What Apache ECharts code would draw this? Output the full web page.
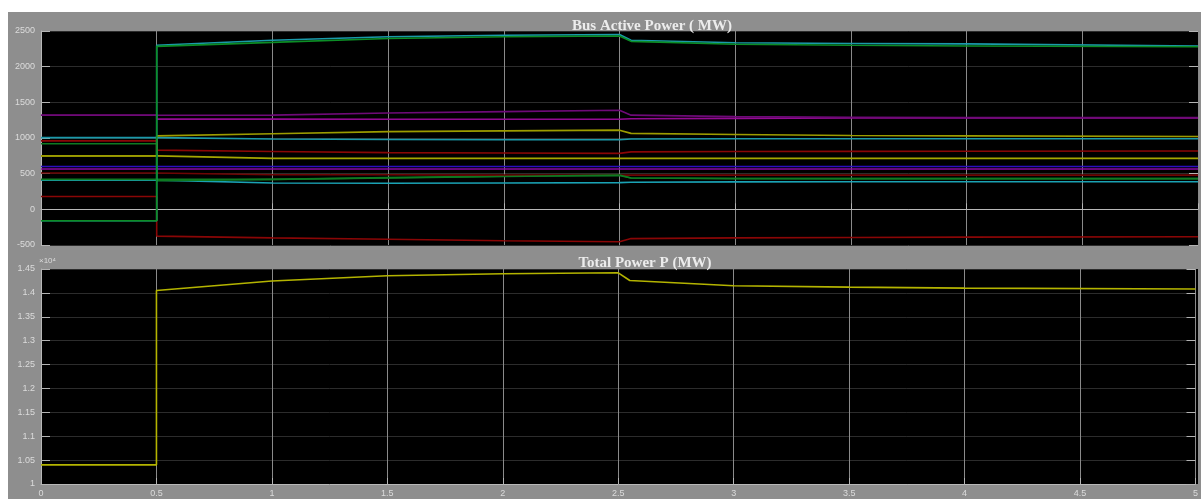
<!DOCTYPE html>
<html>
<head>
<meta charset="utf-8">
<script src="https://cdn.jsdelivr.net/npm/echarts@6/dist/echarts.min.js"></script>
<style>
  html, body { margin: 0; padding: 0; background: #ffffff; }
  #chart { width: 1201px; height: 499px; }
</style>
</head>
<body>
<div id="chart"></div>
<script>
// Sample times (s); repeated instants give the step changes at 0.5 s and 2.5 s
const times = [0, 0.5, 0.5, 1.0, 1.5, 2.0, 2.5, 2.55, 3.0, 3.5, 4.0, 5.0];

// Bus active power (MW)
const busCyanTop    = [-160, -160, 2300, 2370, 2420, 2440, 2450, 2370, 2335, 2325, 2320, 2290];
const busGreenTop   = [-160, -160, 2285, 2340, 2395, 2420, 2430, 2355, 2315, 2300, 2290, 2280];
const busMagentaA   = [1318, 1318, 1290, 1320, 1350, 1370, 1390, 1320, 1300, 1290, 1285, 1285];
const busMagentaB   = [1318, 1318, 1265, 1265, 1262, 1262, 1262, 1270, 1275, 1280, 1282, 1282];
const busYellowUp   = [750, 750, 1030, 1060, 1090, 1100, 1110, 1065, 1050, 1035, 1030, 1020];
const busCyanMid    = [1005, 1005, 990, 985, 980, 975, 975, 985, 990, 990, 990, 990];
const busRedUp      = [960, 960, 830, 810, 795, 790, 785, 805, 810, 812, 815, 818];
const busGreenMid   = [920, 920, 400, 420, 440, 460, 480, 440, 430, 430, 430, 430];
const busYellowLow  = [750, 750, 738, 715, 715, 715, 715, 715, 715, 715, 715, 715];
const busBlue       = [600, 600, 600, 600, 600, 600, 600, 600, 600, 600, 600, 600];
const busPurple     = [565, 565, 565, 565, 565, 565, 565, 565, 565, 565, 565, 565];
const busRedMid     = [510, 510, 490, 485, 485, 480, 480, 480, 480, 480, 480, 480];
const busGreenLow   = [420, 420, 395, 420, 445, 465, 475, 440, 432, 430, 430, 430];
const busCyanLow    = [410, 410, 390, 370, 365, 370, 375, 380, 385, 387, 387, 387];
const busRedLow     = [180, 180, -375, -400, -420, -440, -455, -410, -400, -395, -390, -385];

// Total active power (MW)
const totalPower    = [10400, 10400, 14050, 14250, 14360, 14400, 14420, 14260, 14150, 14120, 14100, 14080];

const busSeries = [
  { values: busRedLow,    color: '#8a0606' },
  { values: busCyanLow,   color: '#1aa2b4' },
  { values: busGreenLow,  color: '#0e7a22' },
  { values: busRedMid,    color: '#6e0404' },
  { values: busPurple,    color: '#8a0aa0' },
  { values: busBlue,      color: '#2c10c0' },
  { values: busYellowLow, color: '#a6a600' },
  { values: busGreenMid,  color: '#0e7a22' },
  { values: busRedUp,     color: '#8a0606' },
  { values: busCyanMid,   color: '#1a9aaa' },
  { values: busYellowUp,  color: '#9c9c00' },
  { values: busMagentaB,  color: '#940a94' },
  { values: busMagentaA,  color: '#6e0a78' },
  { values: busCyanTop,   color: '#1a9aaa' },
  { values: busGreenTop,  color: '#0c8e26' }
];

const pairs = v => times.map((t, i) => [t, v[i]]);

const labelStyle = { color: '#dcdcdc', fontSize: 9, fontFamily: 'Liberation Sans, Arial, sans-serif' };
const tickStyle = { show: true, inside: true, length: 9, lineStyle: { color: '#b4b4b4', width: 1 } };

function xAxisFor(gridIndex, showLabels) {
  return {
    type: 'value', gridIndex, min: 0, max: 5, interval: 0.5,
    axisLine: { show: true, lineStyle: { color: '#b8b8b8', width: 1 } },
    axisTick: { show: true, inside: true, length: 6, lineStyle: { color: '#b4b4b4' } },
    axisLabel: { show: showLabels, ...labelStyle, margin: 5, formatter: v => String(v) },
    splitLine: { show: true, lineStyle: { color: '#8a8a8a', width: 1 } }
  };
}

const chart = echarts.init(document.getElementById('chart'), null, { renderer: 'canvas' });

chart.setOption({
  animation: false,
  backgroundColor: '#ffffff',
  graphic: [
    { type: 'rect', z: -10, shape: { x: 8, y: 12, width: 1193, height: 487 }, style: { fill: '#8e8e8e' } },
    { type: 'rect', z: -9, shape: { x: 41, y: 31, width: 1157, height: 214 }, style: { fill: '#000000' } },
    { type: 'rect', z: -9, shape: { x: 41, y: 269, width: 1157, height: 215 }, style: { fill: '#000000' } }
  ],
  title: [
    { text: 'Bus Active Power ( MW)', left: 647, top: 14, textAlign: 'center',
      textStyle: { color: '#ececec', fontSize: 15, fontWeight: 'bold', fontFamily: 'Liberation Serif, Times New Roman, serif' } },
    { text: 'Total Power P (MW)', left: 640, top: 251, textAlign: 'center',
      textStyle: { color: '#ececec', fontSize: 15, fontWeight: 'bold', fontFamily: 'Liberation Serif, Times New Roman, serif' } }
  ],
  grid: [
    { left: 41, right: 3, top: 31, height: 214, containLabel: false },
    { left: 41, right: 3, top: 269, height: 215, containLabel: false }
  ],
  xAxis: [xAxisFor(0, false), xAxisFor(1, true)],
  yAxis: [
    {
      type: 'value', gridIndex: 0, min: -500, max: 2500, interval: 500,
      axisLine: { show: true, lineStyle: { color: '#b8b8b8' } },
      axisTick: tickStyle,
      axisLabel: { ...labelStyle, margin: 6, formatter: v => String(v) },
      splitLine: { show: true, lineStyle: { color: '#2c2c2c', width: 1 } }
    },
    {
      type: 'value', gridIndex: 1, min: 10000, max: 14500, interval: 500,
      name: '×10⁴', nameLocation: 'end', nameGap: 3,
      nameTextStyle: { color: '#dcdcdc', fontSize: 8, align: 'left', padding: [0, 0, 0, -2] },
      axisLine: { show: true, lineStyle: { color: '#b8b8b8' } },
      axisTick: tickStyle,
      axisLabel: { ...labelStyle, margin: 6, formatter: v => String(+(v / 1e4).toFixed(2)) },
      splitLine: { show: true, lineStyle: { color: '#2c2c2c', width: 1 } }
    },
    {
      type: 'value', gridIndex: 0, position: 'right', min: -500, max: 2500, interval: 500,
      axisLine: { show: false }, axisTick: tickStyle, axisLabel: { show: false }, splitLine: { show: false }
    },
    {
      type: 'value', gridIndex: 1, position: 'right', min: 10000, max: 14500, interval: 500,
      axisLine: { show: false }, axisTick: tickStyle, axisLabel: { show: false }, splitLine: { show: false }
    }
  ],
  series: [
    ...busSeries.map(s => ({
      type: 'line', xAxisIndex: 0, yAxisIndex: 0, data: pairs(s.values),
      showSymbol: false, symbol: 'none', silent: true,
      lineStyle: { color: s.color, width: 1.6 }
    })),
    {
      type: 'line', xAxisIndex: 1, yAxisIndex: 1, data: pairs(totalPower),
      showSymbol: false, symbol: 'none', silent: true,
      lineStyle: { color: '#b4b400', width: 1.6 }
    }
  ]
});
</script>
</body>
</html>
